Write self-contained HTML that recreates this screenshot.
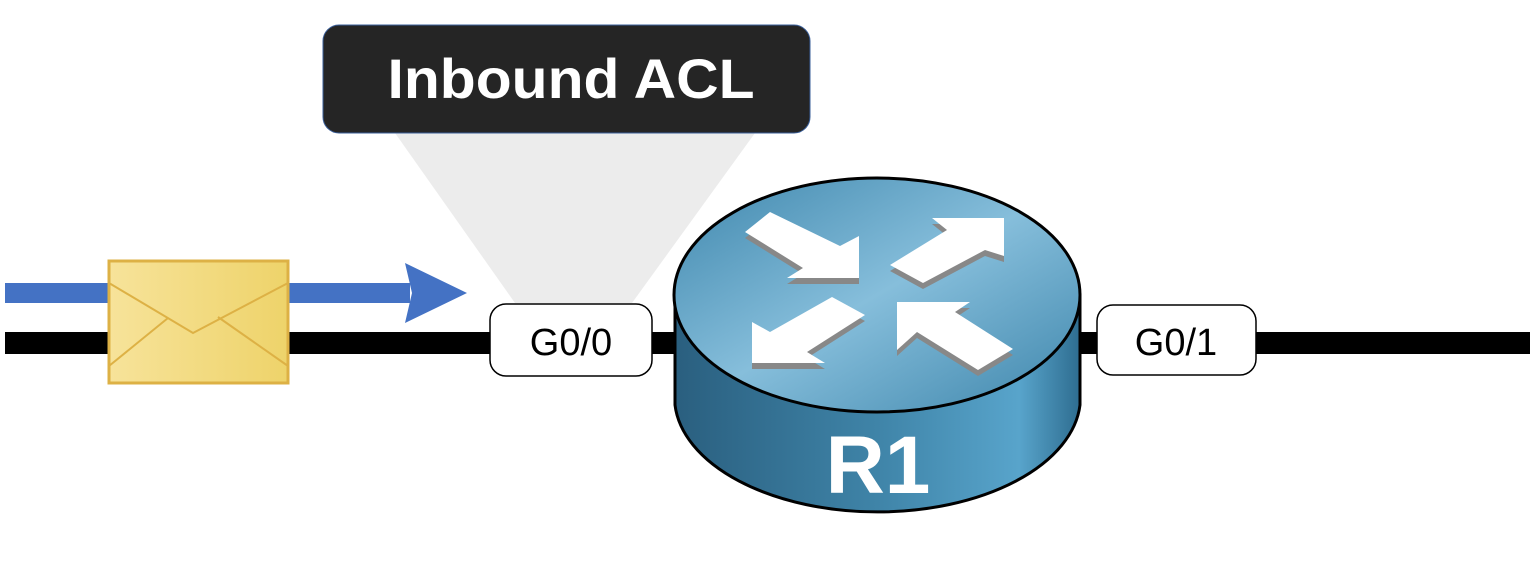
<!DOCTYPE html>
<html><head><meta charset="utf-8"><style>
html,body{margin:0;padding:0;background:#fff;}
svg{display:block;}
</style></head><body>
<svg width="1536" height="564" viewBox="0 0 1536 564" xmlns="http://www.w3.org/2000/svg">
<defs>
<linearGradient id="top" x1="0" y1="0" x2="1" y2="1">
<stop offset="0" stop-color="#3f87ad"/><stop offset="0.5" stop-color="#86bedb"/><stop offset="1" stop-color="#3d85ab"/>
</linearGradient>
<linearGradient id="side" x1="0" y1="0" x2="1" y2="0">
<stop offset="0" stop-color="#2a5f7f"/><stop offset="0.5" stop-color="#3f84a8"/><stop offset="0.85" stop-color="#58a4cb"/><stop offset="1" stop-color="#2e6d90"/>
</linearGradient>
<linearGradient id="env" x1="0" y1="0" x2="1" y2="0">
<stop offset="0" stop-color="#f7e39a"/><stop offset="1" stop-color="#eed36a"/>
</linearGradient>
</defs>
<polygon points="395,133 755,133 632,303 515,303" fill="#ececec"/>
<rect x="323" y="25" width="487" height="108" rx="16" fill="#252525" stroke="#3a5f9a" stroke-width="1"/>
<text x="571" y="98" font-family="Liberation Sans, sans-serif" font-weight="bold" font-size="56" fill="#fff" text-anchor="middle" textLength="367" lengthAdjust="spacingAndGlyphs">Inbound ACL</text>
<rect x="5" y="332" width="1525" height="22" fill="#000"/>
<rect x="5" y="283" width="405" height="20" fill="#4472c4"/>
<polygon points="405,263 467,293 405,323 412,293" fill="#4472c4"/>
<rect x="109" y="261" width="179" height="122" fill="url(#env)" stroke="#ddb145" stroke-width="3"/>
<polyline points="109,283 193,333 288,283" fill="none" stroke="#ddb145" stroke-width="2"/>
<line x1="109" y1="366" x2="168" y2="318" stroke="#ddb145" stroke-width="2"/>
<line x1="288" y1="366" x2="218" y2="317" stroke="#ddb145" stroke-width="2"/>
<rect x="490" y="304" width="162" height="72" rx="16" fill="#fff" stroke="#000" stroke-width="1.5"/>
<text x="571" y="355" font-family="Liberation Sans, sans-serif" font-size="38" text-anchor="middle" fill="#000">G0/0</text>
<rect x="1097" y="305" width="159" height="70" rx="16" fill="#fff" stroke="#000" stroke-width="1.5"/>
<text x="1176" y="355" font-family="Liberation Sans, sans-serif" font-size="38" text-anchor="middle" fill="#000">G0/1</text>
<path d="M675,295 L675,405 A203,115 0 0 0 1080,405 L1080,295 Z" fill="url(#side)" stroke="#000" stroke-width="3"/>
<ellipse cx="877" cy="295" rx="203" ry="117" fill="url(#top)" stroke="#000" stroke-width="3"/>
<g fill="#888" transform="translate(0,6)">
<polygon points="770,212 840,246 859,236 859,278 787,278 803,268 745,232"/>
<polygon points="1004,218 932,218 947,230 890,265 923,283 985,250 1004,256"/>
<polygon points="752,363 752,322 770,332 832,297 865,315 807,352 825,363"/>
<polygon points="897,302 970,302 955,312 1013,349 978,370 917,332 897,350"/>
</g>
<g fill="#fff">
<polygon points="770,212 840,246 859,236 859,278 787,278 803,268 745,232"/>
<polygon points="1004,218 932,218 947,230 890,265 923,283 985,250 1004,256"/>
<polygon points="752,363 752,322 770,332 832,297 865,315 807,352 825,363"/>
<polygon points="897,302 970,302 955,312 1013,349 978,370 917,332 897,350"/>
</g>
<text x="878" y="493" font-family="Liberation Sans, sans-serif" font-weight="bold" font-size="82" fill="#fff" text-anchor="middle">R1</text>
</svg>
</body></html>
